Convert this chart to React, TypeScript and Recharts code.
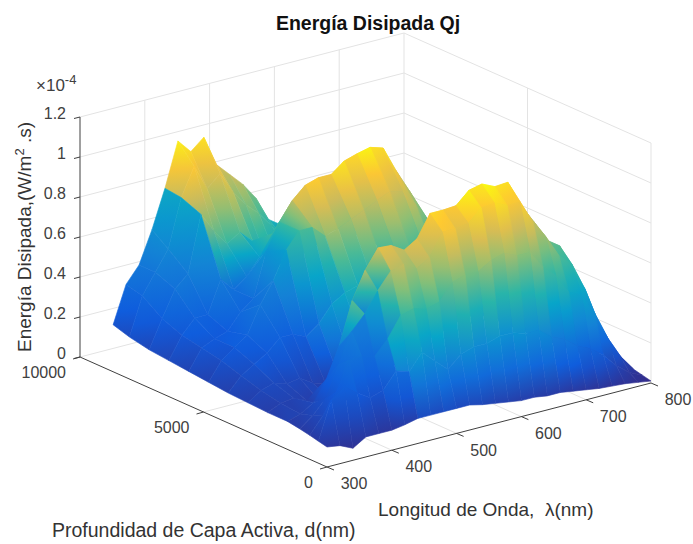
import React from 'react';
import { ComposedChart, XAxis, YAxis, Scatter, ReferenceLine } from 'recharts';

// wavelength columns (nm), every 20 nm
const wavelengths = [300, 320, 340, 360, 380, 400, 420, 440, 460, 480, 500, 520, 540, 560, 580, 600, 620, 640, 660, 680, 700, 720, 740, 760, 780, 800];
// depth rows (nm), drawn back to front
const depths = [8660, 8000, 7200, 6400, 5600, 4800, 4000, 3200, 2400, 1600, 1100, 700, 350, 0];

// dissipated energy, x 1e-4, one list per depth
const energyD8660 = [0.235, 0.42, 0.5, 0.66, 0.85, 1.07, 1.0, 1.055, 0.9, 0.835, 0.77, 0.685, 0.56, 0.515, 0.5, 0.5, 0.5, 0.52, 0.55, 0.58, 0.6, 0.6, 0.58, 0.5, 0.35, 0.15];
const energyD8000 = [0.21, 0.4, 0.5, 0.6, 0.84, 0.98, 0.85, 0.91, 0.8, 0.72, 0.66, 0.58, 0.5, 0.46, 0.46, 0.5, 0.52, 0.55, 0.55, 0.52, 0.5, 0.45, 0.38, 0.28, 0.16, 0.06];
const energyD7200 = [0.19, 0.33, 0.46, 0.52, 0.8, 0.7, 0.62, 0.66, 0.6, 0.5, 0.45, 0.45, 0.48, 0.5, 0.55, 0.55, 0.5, 0.45, 0.4, 0.35, 0.3, 0.25, 0.2, 0.14, 0.08, 0.04];
const energyD6400 = [0.18, 0.29, 0.36, 0.36, 0.52, 0.45, 0.5, 0.58, 0.68, 0.75, 0.8, 0.82, 0.84, 0.84, 0.85, 0.84, 0.75, 0.68, 0.6, 0.48, 0.35, 0.28, 0.2, 0.15, 0.1, 0.05];
const energyD5600 = [0.17, 0.27, 0.3, 0.32, 0.4, 0.45, 0.675, 0.8, 0.89, 0.95, 0.97, 0.97, 1.02, 1.04, 1.055, 1.035, 0.905, 0.79, 0.665, 0.5, 0.34, 0.25, 0.18, 0.13, 0.08, 0.04];
const energyD4800 = [0.16, 0.25, 0.3, 0.345, 0.48, 0.585, 0.72, 0.8, 0.8, 0.74, 0.76, 0.79, 0.82, 0.85, 0.88, 0.86, 0.78, 0.68, 0.58, 0.45, 0.3, 0.22, 0.16, 0.12, 0.07, 0.03];
const energyD4000 = [0.15, 0.22, 0.26, 0.3, 0.36, 0.36, 0.33, 0.38, 0.46, 0.5, 0.52, 0.55, 0.58, 0.62, 0.65, 0.64, 0.58, 0.5, 0.42, 0.33, 0.24, 0.18, 0.14, 0.1, 0.06, 0.03];
const energyD3200 = [0.145, 0.19, 0.21, 0.19, 0.2, 0.16, 0.14, 0.16, 0.2, 0.26, 0.28, 0.31, 0.34, 0.38, 0.42, 0.42, 0.38, 0.34, 0.3, 0.26, 0.2, 0.16, 0.12, 0.09, 0.05, 0.03];
const energyD2400 = [0.14, 0.17, 0.18, 0.15, 0.13, 0.11, 0.1, 0.12, 0.16, 0.2, 0.22, 0.25, 0.28, 0.32, 0.34, 0.36, 0.36, 0.34, 0.3, 0.28, 0.24, 0.18, 0.12, 0.08, 0.04, 0.02];
const energyD1600 = [0.14, 0.16, 0.2, 0.3, 0.45, 0.66, 0.795, 0.89, 0.885, 0.845, 0.885, 0.995, 0.995, 1.0, 1.06, 1.075, 1.045, 1.05, 0.92, 0.82, 0.71, 0.665, 0.515, 0.325, 0.165, 0.06];
const energyD1100 = [0.13, 0.18, 0.25, 0.4, 0.55, 0.62, 0.72, 0.8, 0.82, 0.78, 0.82, 0.93, 0.93, 0.94, 1.0, 1.01, 0.98, 0.98, 0.86, 0.77, 0.66, 0.6, 0.46, 0.28, 0.14, 0.05];
const energyD700 = [0.12, 0.2, 0.3, 0.445, 0.45, 0.43, 0.5, 0.6, 0.62, 0.6, 0.62, 0.7, 0.72, 0.72, 0.76, 0.78, 0.75, 0.75, 0.66, 0.6, 0.5, 0.47, 0.36, 0.22, 0.11, 0.03];
const energyD350 = [0.11, 0.3, 0.35, 0.3, 0.26, 0.28, 0.36, 0.34, 0.42, 0.36, 0.3, 0.36, 0.38, 0.38, 0.4, 0.4, 0.38, 0.38, 0.33, 0.3, 0.25, 0.22, 0.17, 0.1, 0.05, 0.02];
const energyD0 = [0.1, 0.09, 0.06, 0.1, 0.1, 0.1, 0.11, 0.125, 0.125, 0.125, 0.125, 0.125, 0.11, 0.1, 0.09, 0.08, 0.08, 0.07, 0.07, 0.06, 0.05, 0.04, 0.035, 0.03, 0.02, 0.01];

const energyRows = [energyD8660, energyD8000, energyD7200, energyD6400, energyD5600, energyD4800, energyD4000, energyD3200, energyD2400, energyD1600, energyD1100, energyD700, energyD350, energyD0];

// light and dark stripes running down the ridges, one per column gap
const stripeShade = [1, 1, 1, 1, 1, 1, 0.98, 1.02, 0.975, 1.02, 0.98, 1.02, 0.975, 1.02, 0.98, 1.02, 0.98, 1.02, 0.975, 1.02, 0.98, 1.02, 0.98, 1, 1];

const wavelengthTicks = [300, 400, 500, 600, 700, 800];
const depthTicks = [0, 5000, 10000];
const energyTicks = [0, 0.2, 0.4, 0.6, 0.8, 1, 1.2];

const parula = ['#352a87', '#0f5cdd', '#1481d6', '#06a4ca', '#2eb7a4', '#87bf77', '#d1bb59', '#fec832', '#f9fb0e'];

// the oblique view of the MATLAB axes box, in chart units
const project = (lambda: number, depth: number, energy: number) => {
  const u = (lambda - 300) / 500;
  const v = depth / 10000;
  return { sx: 327 + 324 * u - 247 * v, sy: 467 - 84 * u - 110 * v - 200 * energy };
};

const hexToRgb = (hex: string) => [1, 3, 5].map((p) => parseInt(hex.slice(p, p + 2), 16));

const parulaColor = (t: number) => {
  const f = Math.min(Math.max(t, 0), 1) * (parula.length - 1);
  const i = Math.min(Math.floor(f), parula.length - 2);
  const a = hexToRgb(parula[i]);
  const b = hexToRgb(parula[i + 1]);
  const c = a.map((val, k) => Math.round(val + (b[k] - val) * (f - i)));
  return `rgb(${c[0]},${c[1]},${c[2]})`;
};

// the short-wave part is coloured much darker than its height gives
const cornerGain = (col: number, row: number) => {
  if (row < 3) return 1;
  if (row <= 7) return col <= 5 ? 0.55 : col === 6 ? 0.62 : col === 7 ? 0.78 : col === 8 ? 0.9 : 1;
  if (row <= 9) return col <= 4 ? 0.7 : 1;
  return col <= 5 ? 0.55 : col === 6 ? 0.7 : 1;
};

const toColourValue = (e: number, gain: number) => Math.pow((e * gain) / 1.1, 1.15);

const buildQuads = () => {
  const quads: any[] = [];
  for (let j = 0; j < depths.length - 1; j++) {
    for (let i = wavelengths.length - 2; i >= 0; i--) {
      const cells = [
        [i, j],
        [i + 1, j],
        [i + 1, j + 1],
        [i, j + 1],
      ];
      const corners = cells.map(([c, r]) => {
        const e = energyRows[r][c];
        return { ...project(wavelengths[c], depths[r], e), e, gain: i < 4 ? 0.58 : cornerGain(c, r) };
      });
      const low = corners.reduce((m, p) => (p.e < m.e ? p : m), corners[0]);
      const high = corners.reduce((m, p) => (p.e > m.e ? p : m), corners[0]);
      quads.push({
        id: `q${i}-${j}`,
        sx: corners[0].sx,
        sy: corners[0].sy,
        offsets: corners.map((p) => [p.sx - corners[0].sx, p.sy - corners[0].sy]),
        grad: [low.sx - corners[0].sx, low.sy - corners[0].sy, high.sx - corners[0].sx, high.sy - corners[0].sy],
        from: toColourValue(low.e, low.gain * stripeShade[i]),
        to: toColourValue(high.e, high.gain * stripeShade[i]),
      });
    }
  }
  return quads;
};

const QuadShape = (props: any) => {
  const { cx, cy, payload } = props;
  const { id, offsets, grad, from, to } = payload;
  const pts = offsets.map((o: number[]) => `${cx + o[0]},${cy + o[1]}`).join(' ');
  const mid = (from + to) / 2;
  return (
    <g>
      <defs>
        <linearGradient id={id} gradientUnits="userSpaceOnUse" x1={cx + grad[0]} y1={cy + grad[1]} x2={cx + grad[2]} y2={cy + grad[3]}>
          <stop offset="0%" stopColor={parulaColor(from)} />
          <stop offset="50%" stopColor={parulaColor(mid)} />
          <stop offset="100%" stopColor={parulaColor(to)} />
        </linearGradient>
      </defs>
      <polygon points={pts} fill={`url(#${id})`} stroke={`url(#${id})`} strokeWidth={0.6} />
    </g>
  );
};

const font = '"Liberation Sans", Arial, sans-serif';

const LabelShape = (props: any) => {
  const { cx, cy, payload } = props;
  return (
    <text x={cx} y={cy} textAnchor={payload.anchor} fontFamily={font} fontSize={payload.size} fontWeight={payload.bold ? 'bold' : 'normal'} fill={payload.color} dominantBaseline="middle">
      {payload.text}
    </text>
  );
};

const YTitleShape = (props: any) => {
  const { cx, cy } = props;
  return (
    <text x={cx} y={cy} textAnchor="middle" fontFamily={font} fontSize={19} fill="#333" transform={`rotate(-90 ${cx} ${cy})`}>
      Energía Disipada,(W/m<tspan dy={-7} fontSize={13}>2</tspan><tspan dy={7}> .s)</tspan>
    </text>
  );
};

const ExponentShape = (props: any) => {
  const { cx, cy } = props;
  return (
    <text x={cx} y={cy} fontFamily={font} fontSize={17} fill="#404040">
      ×10<tspan dy={-7} fontSize={13}>-4</tspan>
    </text>
  );
};

const tickText = '#404040';
const labels = [
  { sx: 368, sy: 25, text: 'Energía Disipada Qj', anchor: 'middle', size: 19.5, bold: true, color: '#111' },
  { sx: 378, sy: 511, text: 'Longitud de Onda,\u00a0\u00a0λ(nm)', anchor: 'start', size: 19, color: '#333' },
  { sx: 52, sy: 532, text: 'Profundidad de Capa Activa, d(nm)', anchor: 'start', size: 19.5, color: '#333' },
  ...wavelengthTicks.map((w) => {
    const p = project(w, 0, 0);
    return { sx: p.sx + 27, sy: p.sy + 18, text: String(w), anchor: 'middle', size: 16, color: tickText };
  }),
  ...depthTicks.map((d) => {
    const p = project(300, d, 0);
    return { sx: p.sx - 14, sy: p.sy + 17, text: String(d), anchor: 'end', size: 16, color: tickText };
  }),
  ...energyTicks.map((e) => {
    const p = project(300, 10000, e);
    return { sx: p.sx - 14, sy: p.sy - 2, text: String(e), anchor: 'end', size: 16, color: tickText };
  }),
];

const gridStroke = '#e3e3e3';
const axisStroke = '#404040';

const seg = (a: { sx: number; sy: number }, b: { sx: number; sy: number }) => [
  { x: a.sx, y: a.sy },
  { x: b.sx, y: b.sy },
];

const buildGrid = () => {
  const out: any[] = [];
  const top = energyTicks[energyTicks.length - 1];
  wavelengthTicks.slice(1).forEach((w) => {
    out.push(seg(project(w, 10000, 0), project(w, 10000, top)));
    out.push(seg(project(w, 0, 0), project(w, 10000, 0)));
  });
  depthTicks.slice(0, 2).forEach((d) => {
    out.push(seg(project(800, d, 0), project(800, d, top)));
  });
  depthTicks.slice(1).forEach((d) => {
    out.push(seg(project(300, d, 0), project(800, d, 0)));
  });
  energyTicks.slice(1).forEach((e) => {
    out.push(seg(project(300, 10000, e), project(800, 10000, e)));
    out.push(seg(project(800, 10000, e), project(800, 0, e)));
  });
  return out;
};

const buildAxes = () => {
  const out: any[] = [
    seg(project(300, 10000, 0), project(300, 10000, 1.2)),
    seg(project(300, 10000, 0), project(300, 0, 0)),
    seg(project(300, 0, 0), project(800, 0, 0)),
  ];
  energyTicks.forEach((e) => {
    const p = project(300, 10000, e);
    out.push(seg(p, { sx: p.sx - 6, sy: p.sy + 1.5 }));
  });
  depthTicks.forEach((d) => {
    const p = project(300, d, 0);
    out.push(seg(p, { sx: p.sx - 7, sy: p.sy + 2 }));
  });
  wavelengthTicks.forEach((w) => {
    const p = project(w, 0, 0);
    out.push(seg(p, { sx: p.sx + 7, sy: p.sy + 3 }));
  });
  return out;
};

export default function App() {
  const quads = buildQuads();
  return (
    <div style={{ position: 'absolute', left: 0, top: 0, width: 693, height: 544 }}>
      <ComposedChart width={693} height={544} margin={{ top: 0, right: 0, bottom: 0, left: 0 }}>
        <XAxis type="number" dataKey="sx" domain={[0, 693]} hide />
        <YAxis type="number" dataKey="sy" domain={[0, 544]} reversed hide />
        {buildGrid().map((s, i) => (
          <ReferenceLine key={`g${i}`} segment={s} stroke={gridStroke} strokeWidth={1} ifOverflow="visible" />
        ))}
        {buildAxes().map((s, i) => (
          <ReferenceLine key={`a${i}`} segment={s} stroke={axisStroke} strokeWidth={1} ifOverflow="visible" />
        ))}
        <Scatter data={quads} shape={QuadShape} isAnimationActive={false} />
        <Scatter data={labels} shape={LabelShape} isAnimationActive={false} />
        <Scatter data={[{ sx: 31, sy: 237 }]} shape={YTitleShape} isAnimationActive={false} />
        <Scatter data={[{ sx: 36, sy: 91 }]} shape={ExponentShape} isAnimationActive={false} />
      </ComposedChart>
    </div>
  );
}
